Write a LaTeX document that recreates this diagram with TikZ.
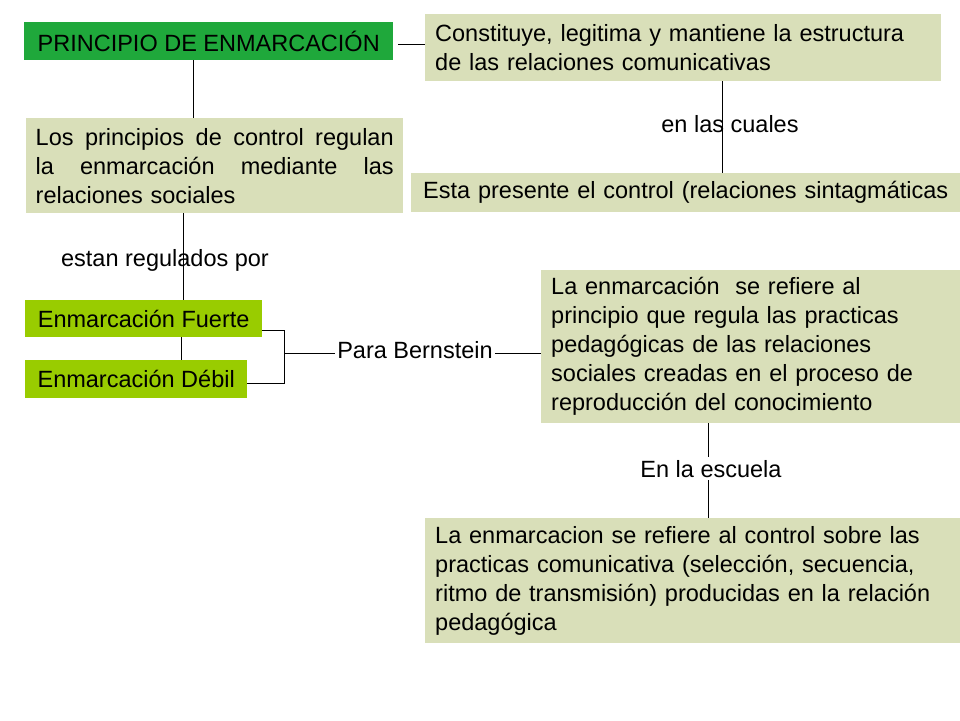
\documentclass[tikz,border=0pt]{standalone}
\usepackage{fontspec}
\setmainfont{Liberation Sans}
\definecolor{khaki}{HTML}{D9DFB9}
\definecolor{dgreen}{HTML}{1FA83B}
\definecolor{lgreen}{HTML}{99CC00}
\newcommand{\jline}[1]{\leavevmode\hbox to 358pt{\spaceskip=.25em plus 1fil\relax #1}}
\begin{document}
\begin{tikzpicture}[x=1pt,y=-1pt,
  every node/.style={font=\fontsize{23.5}{29}\selectfont},
  kbox/.style={anchor=north west, fill=khaki, inner xsep=10pt, inner ysep=0pt, align=left},
  gbox/.style={anchor=north west, fill=#1, inner xsep=0pt, inner ysep=0pt},
  lbl/.style={anchor=base, inner sep=2pt},
  conn/.style={draw=black, line width=0.9pt}]
\fill[white] (0,0) rectangle (960,720);
\useasboundingbox (0,0) rectangle (960,720);

% boxes
\node[gbox=dgreen, minimum width=369pt, minimum height=38pt] (b1) at (24,22) {PRINCIPIO DE ENMARCACIÓN};
\node[kbox, text width=496pt, minimum height=67pt] (b2) at (425,14)
  {Constituye, legitima y mantiene la estructura\\de las relaciones comunicativas};
\node[kbox, inner xsep=9.5pt, text width=358pt, minimum height=95pt] (b4) at (26,118)
  {\jline{Los principios de control regulan}\\
   \jline{la enmarcación mediante las}\\
   relaciones sociales};
\node[kbox, inner xsep=12pt, text width=525pt, minimum height=39pt] (b14) at (411,173)
  {\mbox{Esta presente el control (relaciones sintagmáticas}};
\node[gbox=lgreen, minimum width=237pt, minimum height=37pt] (b7) at (25,300) {Enmarcación Fuerte};
\node[gbox=lgreen, minimum width=222pt, minimum height=38pt] (b8) at (25,360) {Enmarcación Débil};
\node[kbox, text width=399pt, minimum height=153pt] (b11) at (541,270)
  {La enmarcación\ \ se refiere al\\principio que regula las practicas\\pedagógicas de las relaciones\\sociales creadas en el proceso de\\reproducción del conocimiento};
\node[kbox, text width=515pt, minimum height=125pt] (b13) at (425,518)
  {La enmarcacion se refiere al control sobre las\\practicas comunicativa (selección, secuencia,\\ritmo de transmisión) producidas en la relación\\pedagógica};

% helper coordinates
\coordinate (x1) at (193,0);
\coordinate (x2) at (183,0);
\coordinate (x3) at (181,0);
\coordinate (x4) at (722,0);
\coordinate (x5) at (708,0);
\coordinate (bt) at (284,330);
\coordinate (bm) at (284,353);
\coordinate (bb) at (284,383);

% connectors
\draw[conn] ([xshift=5pt]b1.east |- 0,44) -- (b2.west |- 0,44);
\draw[conn] (b1.south -| x1) -- (b4.north -| x1);
\draw[conn] (b4.south -| x2) -- (b7.north -| x2);
\draw[conn] (b7.south -| x3) -- (b8.north -| x3);
\draw[conn] (b2.south -| x4) -- (b14.north -| x4);
\draw[conn] (b7.east |- bt) -- (bt) -- (bb) -- (b8.east |- bb);

% labels
\node[lbl] (l1) at (730,132) {en las cuales};
\node[lbl] (l2) at (165,266) {estan regulados por};
\node[lbl] (l3) at (415,358) {Para Bernstein};
\node[lbl, inner sep=3pt] (l4) at (711,477) {En la escuela};

\draw[conn] (bm) -- (l3.west |- bm);
\draw[conn] (l3.east |- bm) -- (b11.west |- bm);
\draw[conn] (b11.south -| x5) -- (l4.north -| x5);
\draw[conn] (l4.south -| x5) -- (b13.north -| x5);
\end{tikzpicture}
\end{document}
